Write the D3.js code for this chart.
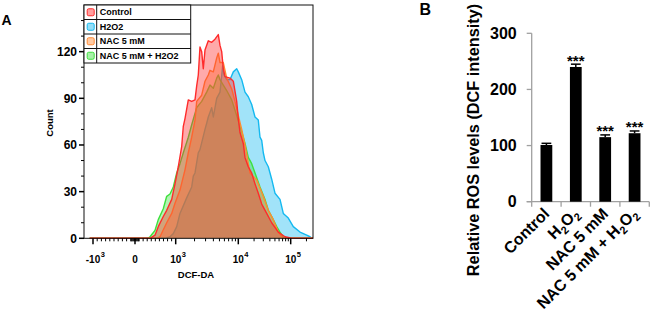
<!DOCTYPE html>
<html>
<head>
<meta charset="utf-8">
<script src="https://cdn.jsdelivr.net/npm/d3@7"></script>
<style>
  body { margin: 0; background: #fff; }
  text { font-family: "Liberation Sans", Arial, sans-serif; font-weight: bold; }
</style>
</head>
<body>
<div id="chart"></div>
<script>
// ############ data : panel A (flow histogram) ##############
var histLegend = ['Control', 'H2O2', 'NAC 5 mM', 'NAC 5 mM + H2O2'];
var histColors = ['#ff2b2b', '#14b9f0', '#ff8a33', '#3fe03f'];

// [DCF intensity, count]
var controlHist = [[-1200,0],[369,0],[491,2],[572,7.5],[695,14],[779,18],[902,25],[983,35],[1100,46],[1247,59],[1323,72],[1408,77],[1590,89],[1802,88],[2034,89],[2165,98],[2296,105],[2443,123],[2602,120],[2760,109],[2938,121],[3317,127],[3758,126],[4245,128],[4793,131],[5102,124],[5429,120],[5760,109],[6131,104],[7370,103],[8322,101],[9428,88],[10000,77],[10775,68],[12454,61],[13428,52],[15512,46],[18019,42],[20830,35],[24080,29],[27970,22],[34830,16],[43390,10],[57990,4],[77830,1],[104500,0],[266000,0]];
var h2o2Hist = [[-1200,0],[737,0],[860,1],[941,3],[1038,7.5],[1171,16],[1498,26],[1802,33],[1911,40],[2034,42],[2296,55],[2443,57],[2938,70],[3127,74],[3317,78],[3758,84],[3987,78],[4519,90],[5102,94],[5634,111],[5910,105],[6527,102],[7370,102],[8322,107],[9428,109],[10000,107],[11612,102],[13428,94],[15512,91],[18019,86],[20830,78],[22450,77],[24080,76],[25950,65],[27970,63],[30000,55],[32330,50],[37370,46],[43390,38],[50170,29],[62500,25],[72250,16],[90000,13],[112100,7.5],[150500,4],[202000,2],[233500,1],[255000,0],[266000,0]];
var nacHist = [[-1200,0],[541,0],[614,1],[779,10],[902,16],[983,22.5],[1171,31],[1408,44],[1590,55],[1802,65],[2034,76],[2165,88],[2602,92],[2938,101],[3317,105],[3531,108],[3987,107],[4519,116],[4793,119],[5102,113],[5760,113],[6527,103],[7847,96],[8857,88],[10000,79],[11612,70],[13428,60],[16720,42],[22450,37.5],[30000,27],[37370,18],[46560,12],[57990,4],[71300,0],[266000,0]];
var nacH2o2Hist = [[-1200,0],[319,0],[369,1],[491,5],[572,12],[695,19],[779,27],[860,28.5],[941,33],[1038,42],[1171,48],[1323,55],[1590,65],[1802,73],[2165,84],[2602,88],[3127,94],[3531,98.5],[3987,96.5],[4519,103],[4793,105],[5102,102],[5760,98.5],[6527,95],[7847,89],[9428,79],[11612,68.5],[13428,61],[15512,52],[18019,48],[20830,42],[25950,33],[32330,25],[37370,18],[43390,14],[54050,7.5],[62500,4],[74500,0],[266000,0]];

var countTicks = [0, 30, 60, 90, 120];
var countMinorTicks = [10, 20, 40, 50, 70, 80, 100, 110, 130, 140];
var dcfTicks = [-1000, 0, 1000, 10000, 100000];
var dcfTickLabels = [['-10', '3'], ['0', ''], ['10', '3'], ['10', '4'], ['10', '5']];

// ############ data : panel B (bar chart) ##############
var barCategories = ['Control', 'H2O2', 'NAC 5 mM', 'NAC 5 mM + H2O2'];
var barValues = [101, 240, 115, 122];
var barErrors = [3, 5, 4, 4];
var barStars = ['', '***', '***', '***'];
var rosTicks = [0, 100, 200, 300];

var svg = d3.select('#chart').append('svg')
  .attr('width', 650)
  .attr('height', 316);

// display transform used by flow software: linear around 0, log above 10^3
function biex(v) {
  var a = Math.abs(v);
  return a <= 1000 ? v / 1000 : Math.sign(v) * (1 + Math.log10(a / 1000));
}

function renderHistogram(svg) {
  var calc = { left: 84, top: 5, right: 313, bottom: 238.3 };
  calc.width = calc.right - calc.left;

  // ############ scales ##############
  var x = d3.scaleLinear()
    .domain([-1, 0, 1, 2, 3])
    .range([0.0393, 0.2227, 0.4004, 0.6738, 0.9026].map(function (f) { return calc.left + f * calc.width; }));
  var y = d3.scaleLinear().domain([0, 150]).range([calc.bottom, calc.top]);
  var xv = function (v) { return x(biex(v)); };

  var g = svg.append('g').attr('class', 'panel-a');

  g.append('clipPath').attr('id', 'histClip')
    .append('rect')
    .attr('x', calc.left).attr('y', calc.top)
    .attr('width', calc.width).attr('height', calc.bottom - calc.top + 1);

  var area = d3.area()
    .x(function (d) { return xv(d[0]); })
    .y0(y(0))
    .y1(function (d) { return y(d[1]); });
  var line = d3.line()
    .x(function (d) { return xv(d[0]); })
    .y(function (d) { return y(d[1]); });

  // bottom layer first, control on top
  var layers = [
    { data: h2o2Hist, color: histColors[1] },
    { data: nacH2o2Hist, color: histColors[3] },
    { data: nacHist, color: histColors[2] },
    { data: controlHist, color: histColors[0] }
  ];
  var plot = g.append('g').attr('clip-path', 'url(#histClip)');
  layers.forEach(function (l) {
    plot.append('path').datum(l.data)
      .attr('d', area)
      .attr('fill', l.color)
      .attr('fill-opacity', 0.4);
    plot.append('path').datum(l.data)
      .attr('d', line)
      .attr('fill', 'none')
      .attr('stroke', l.color)
      .attr('stroke-width', 1.4)
      .attr('stroke-linejoin', 'round');
  });

  // frame
  g.append('rect')
    .attr('x', calc.left).attr('y', calc.top)
    .attr('width', calc.width).attr('height', calc.bottom - calc.top)
    .attr('fill', 'none').attr('stroke', '#111').attr('stroke-width', 1);

  // ############# axes ##################
  var yAxis = g.append('g');
  yAxis.selectAll('.major').data(countTicks).enter().append('line')
    .attr('x1', calc.left - 5).attr('x2', calc.left)
    .attr('y1', function (d) { return y(d); }).attr('y2', function (d) { return y(d); })
    .attr('stroke', '#000').attr('stroke-width', 1.5);
  yAxis.selectAll('.minor').data(countMinorTicks).enter().append('line')
    .attr('x1', calc.left - 3).attr('x2', calc.left)
    .attr('y1', function (d) { return y(d); }).attr('y2', function (d) { return y(d); })
    .attr('stroke', '#000').attr('stroke-width', 1);
  yAxis.selectAll('text').data(countTicks).enter().append('text')
    .attr('x', calc.left - 7)
    .attr('y', function (d) { return y(d); })
    .attr('dy', '0.36em')
    .attr('text-anchor', 'end')
    .attr('font-size', 12)
    .text(function (d) { return d; });

  g.append('text')
    .attr('transform', 'translate(53,123) rotate(-90)')
    .attr('text-anchor', 'middle')
    .attr('font-size', 9.5)
    .text('Count');

  // x minor ticks
  var minor = [];
  for (var n = -900; n <= -100; n += 100) minor.push(n);
  for (var k = -90; k <= 90; k += 20) minor.push(k);
  for (var m = 100; m < 1000; m += 100) minor.push(m);
  [1000, 10000].forEach(function (base) {
    for (var j = 2; j <= 9; j++) minor.push(base * j);
  });
  minor.push(200000);

  var xAxis = g.append('g');
  xAxis.selectAll('.minor').data(minor).enter().append('line')
    .attr('x1', function (d) { return xv(d); }).attr('x2', function (d) { return xv(d); })
    .attr('y1', calc.bottom).attr('y2', calc.bottom + 3)
    .attr('stroke', '#000').attr('stroke-width', 1);
  xAxis.selectAll('.major').data(dcfTicks).enter().append('line')
    .attr('x1', function (d) { return xv(d); }).attr('x2', function (d) { return xv(d); })
    .attr('y1', calc.bottom).attr('y2', calc.bottom + 6)
    .attr('stroke', '#000').attr('stroke-width', 1.5);

  var labels = xAxis.selectAll('.lab').data(dcfTicks).enter().append('g');
  labels.each(function (d, i) {
    var lg = d3.select(this);
    var base = lg.append('text')
      .attr('x', xv(d)).attr('y', 263)
      .attr('text-anchor', 'middle')
      .attr('font-size', 10)
      .text(dcfTickLabels[i][0]);
    var w = base.node().getComputedTextLength();
    lg.append('text')
      .attr('x', xv(d) + w / 2 + 0.5).attr('y', 257)
      .attr('font-size', 7.5)
      .text(dcfTickLabels[i][1]);
  });

  g.append('text')
    .attr('x', 196).attr('y', 278)
    .attr('text-anchor', 'middle')
    .attr('font-size', 9.5)
    .text('DCF-DA');

  // ############# legend ##################
  var lg = { left: 84, top: 5, row: 14.5, width: 106.7, swatch: 12.7 };
  var legend = g.append('g');
  legend.append('rect')
    .attr('x', lg.left).attr('y', lg.top)
    .attr('width', lg.width).attr('height', lg.row * histLegend.length)
    .attr('fill', '#fff').attr('stroke', '#111').attr('stroke-width', 1);
  legend.append('line')
    .attr('x1', lg.left + lg.swatch).attr('x2', lg.left + lg.swatch)
    .attr('y1', lg.top).attr('y2', lg.top + lg.row * histLegend.length)
    .attr('stroke', '#111');
  var rows = legend.selectAll('.row').data(histLegend).enter().append('g')
    .attr('transform', function (d, i) { return 'translate(' + lg.left + ',' + (lg.top + i * lg.row) + ')'; });
  rows.filter(function (d, i) { return i > 0; }).append('line')
    .attr('x1', 0).attr('x2', lg.width).attr('y1', 0).attr('y2', 0)
    .attr('stroke', '#111');
  rows.append('rect')
    .attr('x', 3.2).attr('y', (lg.row - 7) / 2)
    .attr('width', 7).attr('height', 7).attr('rx', 1.5)
    .attr('fill', function (d, i) { return histColors[i]; })
    .attr('fill-opacity', 0.45)
    .attr('stroke', function (d, i) { return histColors[i]; })
    .attr('stroke-width', 1);
  rows.append('text')
    .attr('x', lg.swatch + 3).attr('y', lg.row / 2)
    .attr('dy', '0.36em')
    .attr('font-size', 9)
    .text(function (d) { return d; });

  g.append('text').attr('x', 1.5).attr('y', 25).attr('font-size', 14).text('A');
}

function renderBars(svg) {
  var calc = { left: 531.7, right: 649.3, top: 33.3, bottom: 201.7 };
  var grey = '#a0a0a0';

  // ############ scales ##############
  var x = d3.scaleBand().domain(barCategories)
    .range([calc.left, calc.right])
    .paddingInner(0.6).paddingOuter(0.3);
  var y = d3.scaleLinear().domain([0, 300]).range([calc.bottom, calc.top]);
  var step = x.step();

  var g = svg.append('g').attr('class', 'panel-b');

  // axes
  g.append('line')
    .attr('x1', calc.left).attr('x2', calc.left)
    .attr('y1', y(300)).attr('y2', y(0))
    .attr('stroke', grey).attr('stroke-width', 1.3);
  g.append('line')
    .attr('x1', calc.left - 5).attr('x2', calc.right)
    .attr('y1', y(0)).attr('y2', y(0))
    .attr('stroke', grey).attr('stroke-width', 1.3);
  g.selectAll('.ytick').data(rosTicks).enter().append('line')
    .attr('x1', calc.left - 5).attr('x2', calc.left)
    .attr('y1', function (d) { return y(d); }).attr('y2', function (d) { return y(d); })
    .attr('stroke', grey).attr('stroke-width', 1.3);
  g.selectAll('.ylab').data(rosTicks).enter().append('text')
    .attr('x', calc.left - 15)
    .attr('y', function (d) { return y(d); })
    .attr('dy', '0.36em')
    .attr('text-anchor', 'end')
    .attr('font-size', 16)
    .text(function (d) { return d; });
  g.selectAll('.xtick').data(d3.range(barCategories.length + 1)).enter().append('line')
    .attr('x1', function (i) { return calc.left + i * step; })
    .attr('x2', function (i) { return calc.left + i * step; })
    .attr('y1', y(0)).attr('y2', y(0) + 5)
    .attr('stroke', grey).attr('stroke-width', 1.3);

  // bars
  g.selectAll('.bar').data(barValues).enter().append('rect')
    .attr('x', function (d, i) { return x(barCategories[i]); })
    .attr('y', function (d) { return y(d); })
    .attr('width', x.bandwidth())
    .attr('height', function (d) { return y(0) - y(d); })
    .attr('fill', '#000');

  // error bars
  var err = g.selectAll('.err').data(barValues).enter().append('g');
  err.append('line')
    .attr('x1', function (d, i) { return x(barCategories[i]) + x.bandwidth() / 2; })
    .attr('x2', function (d, i) { return x(barCategories[i]) + x.bandwidth() / 2; })
    .attr('y1', function (d) { return y(d); })
    .attr('y2', function (d, i) { return y(d + barErrors[i]); })
    .attr('stroke', '#000').attr('stroke-width', 1.5);
  err.append('line')
    .attr('x1', function (d, i) { return x(barCategories[i]) + 1; })
    .attr('x2', function (d, i) { return x(barCategories[i]) + x.bandwidth() - 1; })
    .attr('y1', function (d, i) { return y(d + barErrors[i]); })
    .attr('y2', function (d, i) { return y(d + barErrors[i]); })
    .attr('stroke', '#000').attr('stroke-width', 1.5);

  // significance stars
  g.selectAll('.star').data(barValues).enter().append('text')
    .attr('x', function (d, i) { return x(barCategories[i]) + x.bandwidth() / 2; })
    .attr('y', function (d, i) { return y(d + barErrors[i]) + 1.5; })
    .attr('text-anchor', 'middle')
    .attr('font-size', 15)
    .text(function (d, i) { return barStars[i]; });

  // category labels with subscripts
  g.selectAll('.xlab').data(barCategories).enter().append('text')
    .attr('transform', function (d) {
      return 'translate(' + (x(d) + x.bandwidth() / 2 + 4) + ',' + (y(0) + 13) + ') rotate(-45)';
    })
    .attr('text-anchor', 'end')
    .attr('font-size', 16)
    .each(function (d) {
      var t = d3.select(this);
      var parts = d.split(/(2)/).filter(function (p) { return p.length; });
      parts.forEach(function (p) {
        if (p === '2') {
          t.append('tspan').attr('font-size', 11).attr('dy', 4).text(p);
        } else {
          var prevSub = t.selectAll('tspan').size() > 0;
          t.append('tspan').attr('dy', prevSub ? -4 : 0).text(p);
        }
      });
    });

  // axis title
  g.append('text')
    .attr('transform', 'translate(479,140) rotate(-90)')
    .attr('text-anchor', 'middle')
    .attr('font-size', 16.3)
    .text('Relative ROS levels (DCF intensity)');

  g.append('text').attr('x', 419.5).attr('y', 15).attr('font-size', 16).text('B');
}

renderHistogram(svg);
renderBars(svg);
</script>
</body>
</html>
